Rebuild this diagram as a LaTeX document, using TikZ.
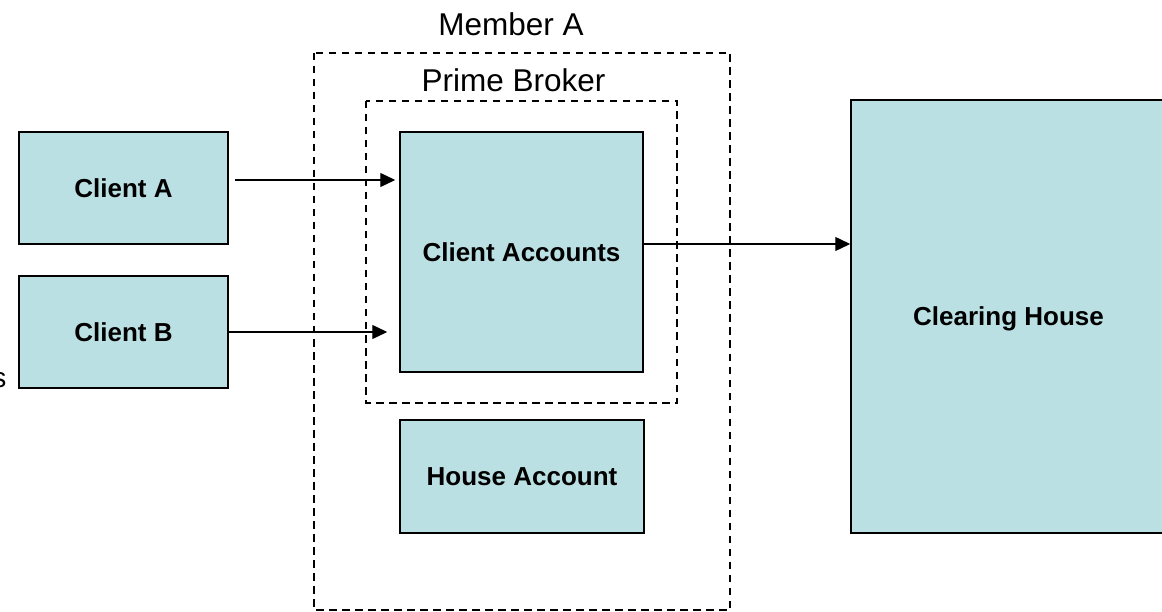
\documentclass[tikz,border=0pt]{standalone}
\usepackage{fontspec}
\setmainfont{Liberation Sans}
\usetikzlibrary{arrows.meta,calc}
\definecolor{boxfill}{RGB}{186,224,227}
\begin{document}
\begin{tikzpicture}[x=1pt,y=-1pt,
  boxnode/.style={draw=black,line width=1.5pt,fill=boxfill,font=\fontsize{26}{30}\selectfont\bfseries,inner sep=0pt,text height=18.6pt,text depth=0pt},
  grp/.style={draw=black,line width=1.4pt,dash pattern=on 7.5pt off 5.5pt},
  lbl/.style={font=\fontsize{31.5}{36}\selectfont,inner sep=0pt,anchor=base},
  arr/.style={line width=1.4pt,-{Triangle[length=15pt,width=14pt]}}]
\useasboundingbox (0,0) rectangle (1162,612);
\clip (0,0) rectangle (1162,612);
\draw[grp] (314,53) rectangle (730,610);
\draw[grp] (366,101) rectangle (677,403);
\node[lbl] (memberA) at (511,36) {Member A};
\node[lbl] (prime) at (513.5,92) {Prime Broker};
\node[boxnode,minimum width=209pt,minimum height=112pt] (ca) at (123.5,188) {Client A};
\node[boxnode,minimum width=209pt,minimum height=112pt] (cb) at (123.5,332) {Client B};
\node[boxnode,minimum width=243pt,minimum height=240pt] (acc) at (521.5,252) {Client Accounts};
\node[boxnode,minimum width=244pt,minimum height=113pt] (ha) at (522,476.5) {House Account};
\node[boxnode,minimum width=315pt,minimum height=433pt] (ch) at (1008.5,316.5) {Clearing House};
\node[font=\fontsize{28}{32}\selectfont,inner sep=0pt,anchor=base east] (s) at (6.5,387) {s};
\draw[arr] ($(ca.east)+(6,-8)$) -- ($(ca.east -| acc.west)+(-4,-8)$);
\draw[arr] (cb.east) -- ($(cb.east -| acc.west)+(-12,0)$);
\draw[arr] ($(acc.east)+(0,-8)$) -- ($(acc.east -| ch.west)+(0,-8)$);
\end{tikzpicture}
\end{document}
